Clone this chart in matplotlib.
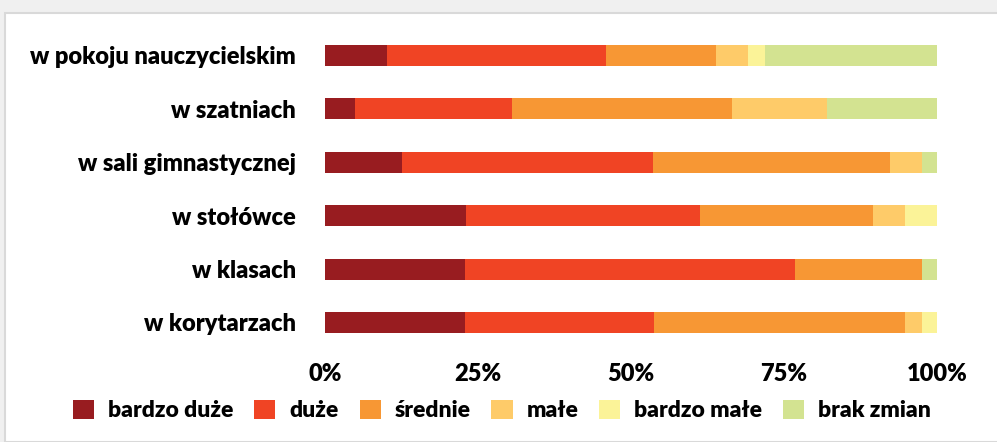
import matplotlib.pyplot as plt
import numpy as np
from matplotlib.patches import Rectangle, Patch

categories = ["w pokoju nauczycielskim", "w szatniach", "w sali gimnastycznej",
              "w stołówce", "w klasach", "w korytarzach"]
series_names = ["bardzo duże", "duże", "średnie", "małe", "bardzo małe", "brak zmian"]
colors = ["#981c20", "#f04424", "#f79734", "#fecb69", "#fbf398", "#d3e391"]

bardzo_duze = [10.1, 4.9, 12.6, 23.0, 22.9, 22.9]
duze = [35.8, 25.7, 41.0, 38.2, 53.9, 30.9]
srednie = [18.0, 35.9, 38.7, 28.4, 20.7, 41.0]
male = [5.2, 15.5, 5.2, 5.2, 0.0, 2.8]
bardzo_male = [2.8, 0.0, 0.0, 5.2, 0.0, 2.4]
brak_zmian = [28.1, 18.0, 2.5, 0.0, 2.5, 0.0]

tick_vals = [0, 25, 50, 75, 100]
tick_labels = ["0%", "25%", "50%", "75%", "100%"]

plt.rcParams['font.family'] = ['Lato', 'DejaVu Sans']

W, H = 997, 442
fig = plt.figure(figsize=(W / 100, H / 100), dpi=100, facecolor='#f0f0f0')

# white panel with thin border
fig.patches.append(Rectangle((5 / W, 0), 1, 1 - 13 / H, transform=fig.transFigure,
                             facecolor='white', edgecolor='#d9d9d9', lw=1.5, zorder=0))

ax = fig.add_axes([325 / W, 1 - 349.2 / H, 612 / W, 320.4 / H])
ax.set_facecolor('none')
ax.set_zorder(2)

series = [bardzo_duze, duze, srednie, male, bardzo_male, brak_zmian]
y = np.arange(len(categories))
left = np.zeros(len(categories))
for vals, name, c in zip(series, series_names, colors):
    vals = np.array(vals)
    ax.barh(y, vals, left=left, height=0.39, color=c, label=name, linewidth=0)
    left += vals

ax.set_ylim(len(categories) - 0.5, -0.5)
ax.set_xlim(0, 100)
ax.set_yticks(y)
ax.set_yticklabels(categories, fontsize=17, fontweight='heavy')
ax.set_xticks(tick_vals)
ax.set_xticklabels(tick_labels, fontsize=17, fontweight='heavy')
ax.tick_params(axis='y', length=0, pad=21)
ax.tick_params(axis='x', length=0, pad=10)
for s in ax.spines.values():
    s.set_visible(False)

handles = [Patch(facecolor=c, edgecolor='none') for c in colors]
leg = fig.legend(handles, series_names, loc='center left', bbox_to_anchor=(57 / W, 1 - 410.5 / H),
                 ncol=6, frameon=False, prop={'size': 16.5, 'weight': 'heavy'},
                 handlelength=0.92, handleheight=0.92, handletextpad=0.6, columnspacing=0.92,
                 borderpad=0.2)
leg.set_zorder(3)

fig.savefig('out.png', dpi=100, facecolor=fig.get_facecolor())
